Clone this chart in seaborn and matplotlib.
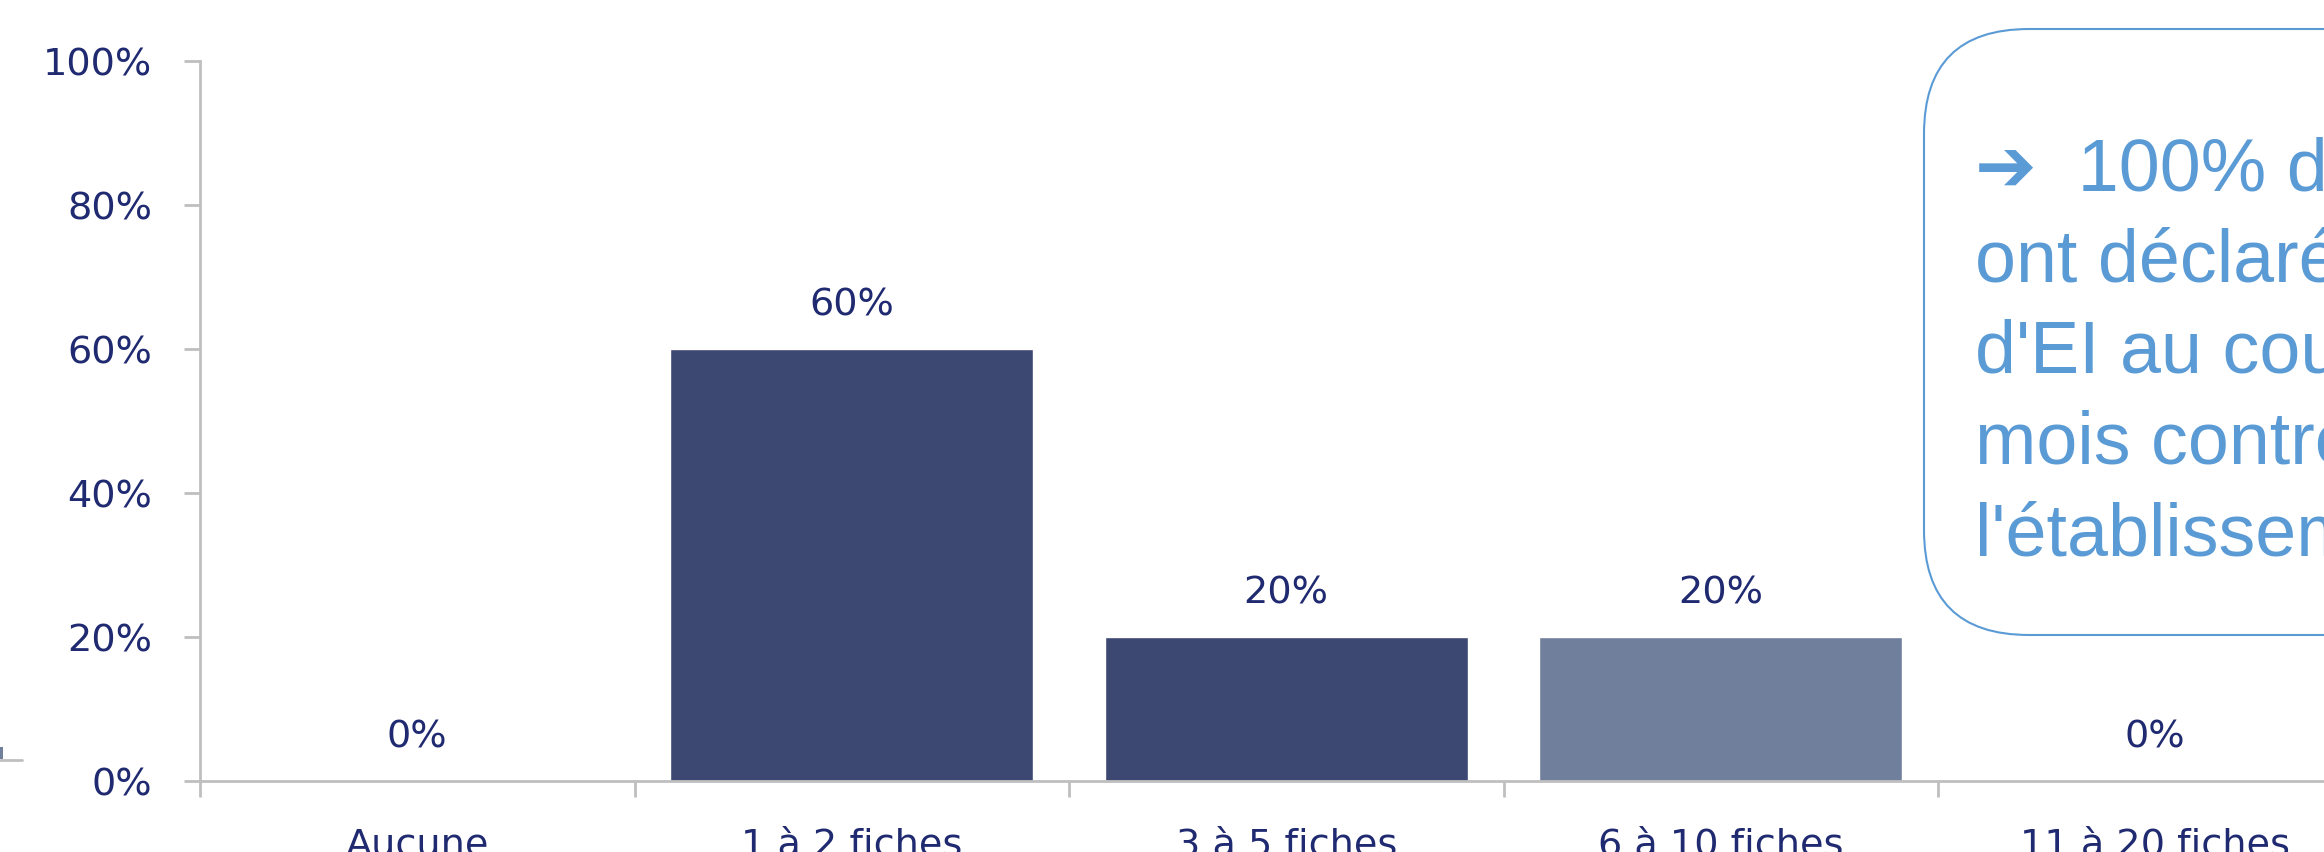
import matplotlib
matplotlib.use("Agg")
import numpy as np
import pandas as pd
import matplotlib.pyplot as plt
import seaborn as sns
from matplotlib.patches import FancyBboxPatch, Rectangle
from matplotlib.lines import Line2D
from matplotlib.ticker import PercentFormatter

sns.set_style("white")
plt.rcParams["font.family"] = ["DejaVu Sans"]

# data
categories = ["Aucune", "1 à 2 fiches", "3 à 5 fiches", "6 à 10 fiches", "11 à 20 fiches"]
shares = [0.0, 0.6, 0.2, 0.2, 0.0]
bar_colors = ["#3C4872", "#3C4872", "#3C4872", "#6F7F9C", "#3C4872"]
y_ticks = [0, 0.2, 0.4, 0.6, 0.8, 1.0]

callout_lines = [
    "➔  100% des répondants",
    "ont déclaré au moins une fiche",
    "d'EI au cours des 12 derniers",
    "mois contre la moyenne de",
    "l'établissement",
]

TEXT_NAVY = "#1F2A70"
AXIS_GREY = "#BFBFBF"
CALLOUT_BLUE = "#5B9BD5"

W, H = 2324, 853
fig = plt.figure(figsize=(W / 100, H / 100), dpi=100)
# axes runs off the right edge of the picture, like the cropped original
ax = fig.add_axes([200 / W, 1 - 782 / H, 2172.5 / W, 720 / H])

df = pd.DataFrame({"cat": categories, "share": shares})
sns.barplot(data=df, x="cat", y="share", hue="cat", palette=bar_colors,
            dodge=False, width=0.835, legend=False, ax=ax, saturation=1)

ax.set_xlim(-0.5, len(categories) - 0.5)
ax.set_ylim(0, 1.0)
ax.set_yticks(y_ticks)
ax.yaxis.set_major_formatter(PercentFormatter(1.0, decimals=0))
ax.set_xlabel("")
ax.set_ylabel("")

# value labels above each bar
for i, v in enumerate(shares):
    ax.annotate(f"{v:.0%}", (i, v), xytext=(0, 25), textcoords="offset points",
                ha="center", va="baseline", fontsize=27.5, color=TEXT_NAVY)

sns.despine(ax=ax)
for side in ["left", "bottom"]:
    ax.spines[side].set_color(AXIS_GREY)
    ax.spines[side].set_linewidth(2)

# category separators as minor ticks, labels on major ticks
ax.set_xticks(np.arange(-0.5, len(categories) + 0.5, 1.0), minor=True)
ax.tick_params(axis="x", which="major", bottom=True, length=0, pad=33,
               labelsize=27.5, labelcolor=TEXT_NAVY)
ax.tick_params(axis="x", which="minor", bottom=True, length=11.5, width=2,
               color=AXIS_GREY, direction="out")
ax.tick_params(axis="y", which="major", left=True, length=11.5, width=2,
               color=AXIS_GREY, direction="out", pad=23, labelsize=27.5,
               labelcolor=TEXT_NAVY)

# leftover legend fragment at the left edge
fig.add_artist(Line2D([0, 22 / W], [1 - 761 / H, 1 - 761 / H],
                      transform=fig.transFigure, color=AXIS_GREY, lw=2))
fig.add_artist(Rectangle((0, 1 - 760 / H), 3 / W, 12 / H,
                         transform=fig.transFigure, color="#6F7F9C", lw=0))

# callout box (cut off on the right)
box = FancyBboxPatch((19.24, (H - 636) / 100), 6.0, (636 - 30) / 100,
                     boxstyle="round,pad=0,rounding_size=1.05",
                     transform=fig.dpi_scale_trans,
                     facecolor="white", edgecolor=CALLOUT_BLUE, linewidth=1.5)
fig.add_artist(box)

baselines = [191, 282, 373, 464, 555]
for line, yb in zip(callout_lines, baselines):
    fig.text(1975 / W, 1 - yb / H, line, ha="left", va="baseline",
             fontsize=53, color=CALLOUT_BLUE,
             family=["Liberation Sans", "DejaVu Sans"])

fig.savefig("out.png", dpi=100)
